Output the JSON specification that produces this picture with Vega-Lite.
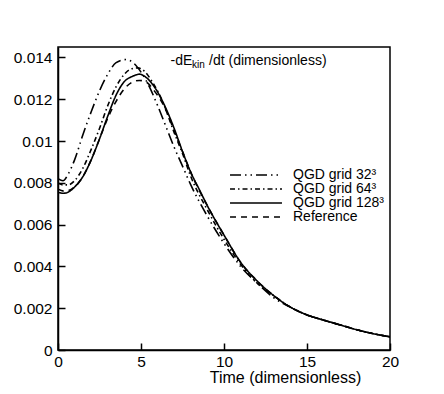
{
  "$schema": "https://vega.github.io/schema/vega-lite/v6.json",
  "width": 332,
  "height": 303,
  "autosize": {"type": "none"},
  "padding": {"left": 58, "top": 47, "right": 54, "bottom": 44},
  "background": "white",
  "config": {
    "view": {"stroke": "black", "strokeWidth": 1.5},
    "font": "Liberation Sans",
    "axis": {
      "domainColor": "black", "domainWidth": 1.5, "tickColor": "black", "tickWidth": 1.5,
      "labelColor": "black", "titleColor": "black", "labelFont": "Liberation Sans", "titleFont": "Liberation Sans",
      "grid": false, "labelFontSize": 15.5
    }
  },
  "resolve": {"axis": {"x": "independent", "y": "independent"}},
  "datasets": {
    "curves": [
      {"t": 0, "v": 0.0082, "s": "QGD grid 32³"},
      {"t": 0.3, "v": 0.0081, "s": "QGD grid 32³"},
      {"t": 0.6, "v": 0.0084, "s": "QGD grid 32³"},
      {"t": 1.0, "v": 0.0091, "s": "QGD grid 32³"},
      {"t": 1.5, "v": 0.0103, "s": "QGD grid 32³"},
      {"t": 2.0, "v": 0.0114, "s": "QGD grid 32³"},
      {"t": 2.5, "v": 0.0124, "s": "QGD grid 32³"},
      {"t": 3.0, "v": 0.0132, "s": "QGD grid 32³"},
      {"t": 3.5, "v": 0.01375, "s": "QGD grid 32³"},
      {"t": 4.1, "v": 0.0139, "s": "QGD grid 32³"},
      {"t": 4.6, "v": 0.0137, "s": "QGD grid 32³"},
      {"t": 5.0, "v": 0.0133, "s": "QGD grid 32³"},
      {"t": 5.5, "v": 0.0126, "s": "QGD grid 32³"},
      {"t": 6.0, "v": 0.0117, "s": "QGD grid 32³"},
      {"t": 6.5, "v": 0.0107, "s": "QGD grid 32³"},
      {"t": 7.0, "v": 0.0097, "s": "QGD grid 32³"},
      {"t": 7.5, "v": 0.0088, "s": "QGD grid 32³"},
      {"t": 8.0, "v": 0.0079, "s": "QGD grid 32³"},
      {"t": 9.0, "v": 0.0064, "s": "QGD grid 32³"},
      {"t": 10, "v": 0.0051, "s": "QGD grid 32³"},
      {"t": 11, "v": 0.0040, "s": "QGD grid 32³"},
      {"t": 12, "v": 0.0032, "s": "QGD grid 32³"},
      {"t": 13, "v": 0.0025, "s": "QGD grid 32³"},
      {"t": 14, "v": 0.00205, "s": "QGD grid 32³"},
      {"t": 15, "v": 0.00168, "s": "QGD grid 32³"},
      {"t": 16, "v": 0.00143, "s": "QGD grid 32³"},
      {"t": 17, "v": 0.0012, "s": "QGD grid 32³"},
      {"t": 18, "v": 0.00097, "s": "QGD grid 32³"},
      {"t": 19, "v": 0.00078, "s": "QGD grid 32³"},
      {"t": 20, "v": 0.00063, "s": "QGD grid 32³"},

      {"t": 0, "v": 0.0080, "s": "QGD grid 64³"},
      {"t": 0.3, "v": 0.0079, "s": "QGD grid 64³"},
      {"t": 0.6, "v": 0.0079, "s": "QGD grid 64³"},
      {"t": 1.0, "v": 0.0081, "s": "QGD grid 64³"},
      {"t": 1.5, "v": 0.0087, "s": "QGD grid 64³"},
      {"t": 2.0, "v": 0.0096, "s": "QGD grid 64³"},
      {"t": 2.5, "v": 0.0106, "s": "QGD grid 64³"},
      {"t": 3.0, "v": 0.0117, "s": "QGD grid 64³"},
      {"t": 3.5, "v": 0.0126, "s": "QGD grid 64³"},
      {"t": 4.0, "v": 0.0132, "s": "QGD grid 64³"},
      {"t": 4.4, "v": 0.01345, "s": "QGD grid 64³"},
      {"t": 4.8, "v": 0.0135, "s": "QGD grid 64³"},
      {"t": 5.2, "v": 0.01335, "s": "QGD grid 64³"},
      {"t": 5.7, "v": 0.0128, "s": "QGD grid 64³"},
      {"t": 6.3, "v": 0.0119, "s": "QGD grid 64³"},
      {"t": 7.0, "v": 0.0104, "s": "QGD grid 64³"},
      {"t": 7.5, "v": 0.0094, "s": "QGD grid 64³"},
      {"t": 8.0, "v": 0.0083, "s": "QGD grid 64³"},
      {"t": 9.0, "v": 0.0067, "s": "QGD grid 64³"},
      {"t": 10, "v": 0.0053, "s": "QGD grid 64³"},
      {"t": 11, "v": 0.0041, "s": "QGD grid 64³"},
      {"t": 12, "v": 0.0032, "s": "QGD grid 64³"},
      {"t": 13, "v": 0.0026, "s": "QGD grid 64³"},
      {"t": 14, "v": 0.00205, "s": "QGD grid 64³"},
      {"t": 15, "v": 0.00168, "s": "QGD grid 64³"},
      {"t": 16, "v": 0.00143, "s": "QGD grid 64³"},
      {"t": 17, "v": 0.0012, "s": "QGD grid 64³"},
      {"t": 18, "v": 0.00097, "s": "QGD grid 64³"},
      {"t": 19, "v": 0.00078, "s": "QGD grid 64³"},
      {"t": 20, "v": 0.00063, "s": "QGD grid 64³"},

      {"t": 0, "v": 0.00755, "s": "QGD grid 128³"},
      {"t": 0.3, "v": 0.0075, "s": "QGD grid 128³"},
      {"t": 0.6, "v": 0.00755, "s": "QGD grid 128³"},
      {"t": 1.0, "v": 0.0078, "s": "QGD grid 128³"},
      {"t": 1.5, "v": 0.0083, "s": "QGD grid 128³"},
      {"t": 2.0, "v": 0.0091, "s": "QGD grid 128³"},
      {"t": 2.5, "v": 0.0101, "s": "QGD grid 128³"},
      {"t": 3.0, "v": 0.0112, "s": "QGD grid 128³"},
      {"t": 3.5, "v": 0.0122, "s": "QGD grid 128³"},
      {"t": 4.0, "v": 0.01285, "s": "QGD grid 128³"},
      {"t": 4.5, "v": 0.0131, "s": "QGD grid 128³"},
      {"t": 4.9, "v": 0.0132, "s": "QGD grid 128³"},
      {"t": 5.3, "v": 0.01305, "s": "QGD grid 128³"},
      {"t": 5.8, "v": 0.0126, "s": "QGD grid 128³"},
      {"t": 6.3, "v": 0.0119, "s": "QGD grid 128³"},
      {"t": 7.0, "v": 0.0106, "s": "QGD grid 128³"},
      {"t": 7.5, "v": 0.0095, "s": "QGD grid 128³"},
      {"t": 8.0, "v": 0.0085, "s": "QGD grid 128³"},
      {"t": 8.5, "v": 0.0077, "s": "QGD grid 128³"},
      {"t": 9.0, "v": 0.0069, "s": "QGD grid 128³"},
      {"t": 10, "v": 0.0055, "s": "QGD grid 128³"},
      {"t": 11, "v": 0.0042, "s": "QGD grid 128³"},
      {"t": 12, "v": 0.0033, "s": "QGD grid 128³"},
      {"t": 13, "v": 0.0026, "s": "QGD grid 128³"},
      {"t": 14, "v": 0.00205, "s": "QGD grid 128³"},
      {"t": 15, "v": 0.00168, "s": "QGD grid 128³"},
      {"t": 16, "v": 0.00143, "s": "QGD grid 128³"},
      {"t": 17, "v": 0.0012, "s": "QGD grid 128³"},
      {"t": 18, "v": 0.00097, "s": "QGD grid 128³"},
      {"t": 19, "v": 0.00078, "s": "QGD grid 128³"},
      {"t": 20, "v": 0.00063, "s": "QGD grid 128³"},

      {"t": 0, "v": 0.0077, "s": "Reference"},
      {"t": 0.4, "v": 0.0076, "s": "Reference"},
      {"t": 1.0, "v": 0.0078, "s": "Reference"},
      {"t": 1.5, "v": 0.0083, "s": "Reference"},
      {"t": 2.0, "v": 0.0091, "s": "Reference"},
      {"t": 2.5, "v": 0.0101, "s": "Reference"},
      {"t": 3.0, "v": 0.0111, "s": "Reference"},
      {"t": 3.5, "v": 0.0119, "s": "Reference"},
      {"t": 4.0, "v": 0.0125, "s": "Reference"},
      {"t": 4.5, "v": 0.01283, "s": "Reference"},
      {"t": 4.9, "v": 0.0129, "s": "Reference"},
      {"t": 5.3, "v": 0.01283, "s": "Reference"},
      {"t": 5.8, "v": 0.0124, "s": "Reference"},
      {"t": 6.3, "v": 0.0118, "s": "Reference"},
      {"t": 7.0, "v": 0.0105, "s": "Reference"},
      {"t": 7.5, "v": 0.0095, "s": "Reference"},
      {"t": 8.0, "v": 0.0085, "s": "Reference"},
      {"t": 9.0, "v": 0.0069, "s": "Reference"},
      {"t": 10, "v": 0.0055, "s": "Reference"},
      {"t": 11, "v": 0.0042, "s": "Reference"},
      {"t": 12, "v": 0.0033, "s": "Reference"},
      {"t": 13, "v": 0.0026, "s": "Reference"},
      {"t": 14, "v": 0.00205, "s": "Reference"},
      {"t": 15, "v": 0.00168, "s": "Reference"},
      {"t": 16, "v": 0.00143, "s": "Reference"},
      {"t": 17, "v": 0.0012, "s": "Reference"},
      {"t": 18, "v": 0.00097, "s": "Reference"},
      {"t": 19, "v": 0.00078, "s": "Reference"},
      {"t": 20, "v": 0.00063, "s": "Reference"}
    ],
    "maintext": [
      {"t": 6.78, "v": 0.01364, "label": "-dE"},
      {"t": 9.1, "v": 0.01364, "label": "/dt (dimensionless)"}
    ],
    "subtext": [
      {"t": 8.07, "v": 0.01350, "label": "kin"}
    ]
  },
  "layer": [
    {
      "data": {"name": "curves"},
      "mark": {"type": "line", "color": "black", "strokeWidth": 1.6, "interpolate": "monotone", "clip": true},
      "encoding": {
        "x": {
          "field": "t", "type": "quantitative",
          "scale": {"domain": [0, 20], "nice": false, "zero": false},
          "axis": {
            "title": "Time (dimensionless)", "values": [0, 5, 10, 15, 20],
            "ticks": false, "labelPadding": 4, "titleFontSize": 16, "titleFontWeight": "normal",
            "titleX": 227, "titleY": 32, "titleBaseline": "alphabetic", "titleAnchor": "middle",
            "labelFlush": false
          }
        },
        "y": {
          "field": "v", "type": "quantitative",
          "scale": {"domain": [0, 0.0145], "nice": false},
          "axis": {
            "title": null, "values": [0, 0.002, 0.004, 0.006, 0.008, 0.01, 0.012, 0.014],
            "format": "~g", "ticks": false, "labelPadding": 6, "labelFlush": false
          }
        },
        "strokeDash": {
          "field": "s", "type": "nominal",
          "scale": {
            "domain": ["QGD grid 32³", "QGD grid 64³", "QGD grid 128³", "Reference"],
            "range": [[11, 4, 1.5, 4, 1.5, 4], [5, 3, 1.5, 3], [1, 0], [6, 5]]
          },
          "legend": {
            "orient": "none", "legendX": 191, "legendY": 121, "title": null,
            "symbolType": "M-5,0H5", "symbolSize": 108, "symbolStrokeWidth": 1.5,
            "symbolStrokeColor": "black", "labelFontSize": 14, "labelFont": "Liberation Sans",
            "labelColor": "black", "labelOffset": 30, "rowPadding": 0, "padding": 0, "labelLimit": 200
          }
        }
      }
    },
    {
      "data": {"name": "maintext"},
      "mark": {"type": "text", "align": "left", "baseline": "alphabetic", "fontSize": 14, "font": "Liberation Sans", "color": "black"},
      "encoding": {
        "x": {
          "field": "t", "type": "quantitative",
          "axis": {"orient": "top", "offset": -303, "values": [0, 5, 10, 15, 20], "labels": false, "domain": false, "tickSize": 7, "title": null}
        },
        "y": {
          "field": "v", "type": "quantitative",
          "axis": {"orient": "right", "offset": -332, "values": [0, 0.002, 0.004, 0.006, 0.008, 0.01, 0.012, 0.014], "labels": false, "domain": false, "tickSize": 7, "title": null}
        },
        "text": {"field": "label"}
      }
    },
    {
      "data": {"name": "subtext"},
      "mark": {"type": "text", "align": "left", "baseline": "alphabetic", "fontSize": 10, "font": "Liberation Sans", "color": "black"},
      "encoding": {
        "x": {"field": "t", "type": "quantitative", "axis": null},
        "y": {"field": "v", "type": "quantitative", "axis": null},
        "text": {"field": "label"}
      }
    }
  ]
}
